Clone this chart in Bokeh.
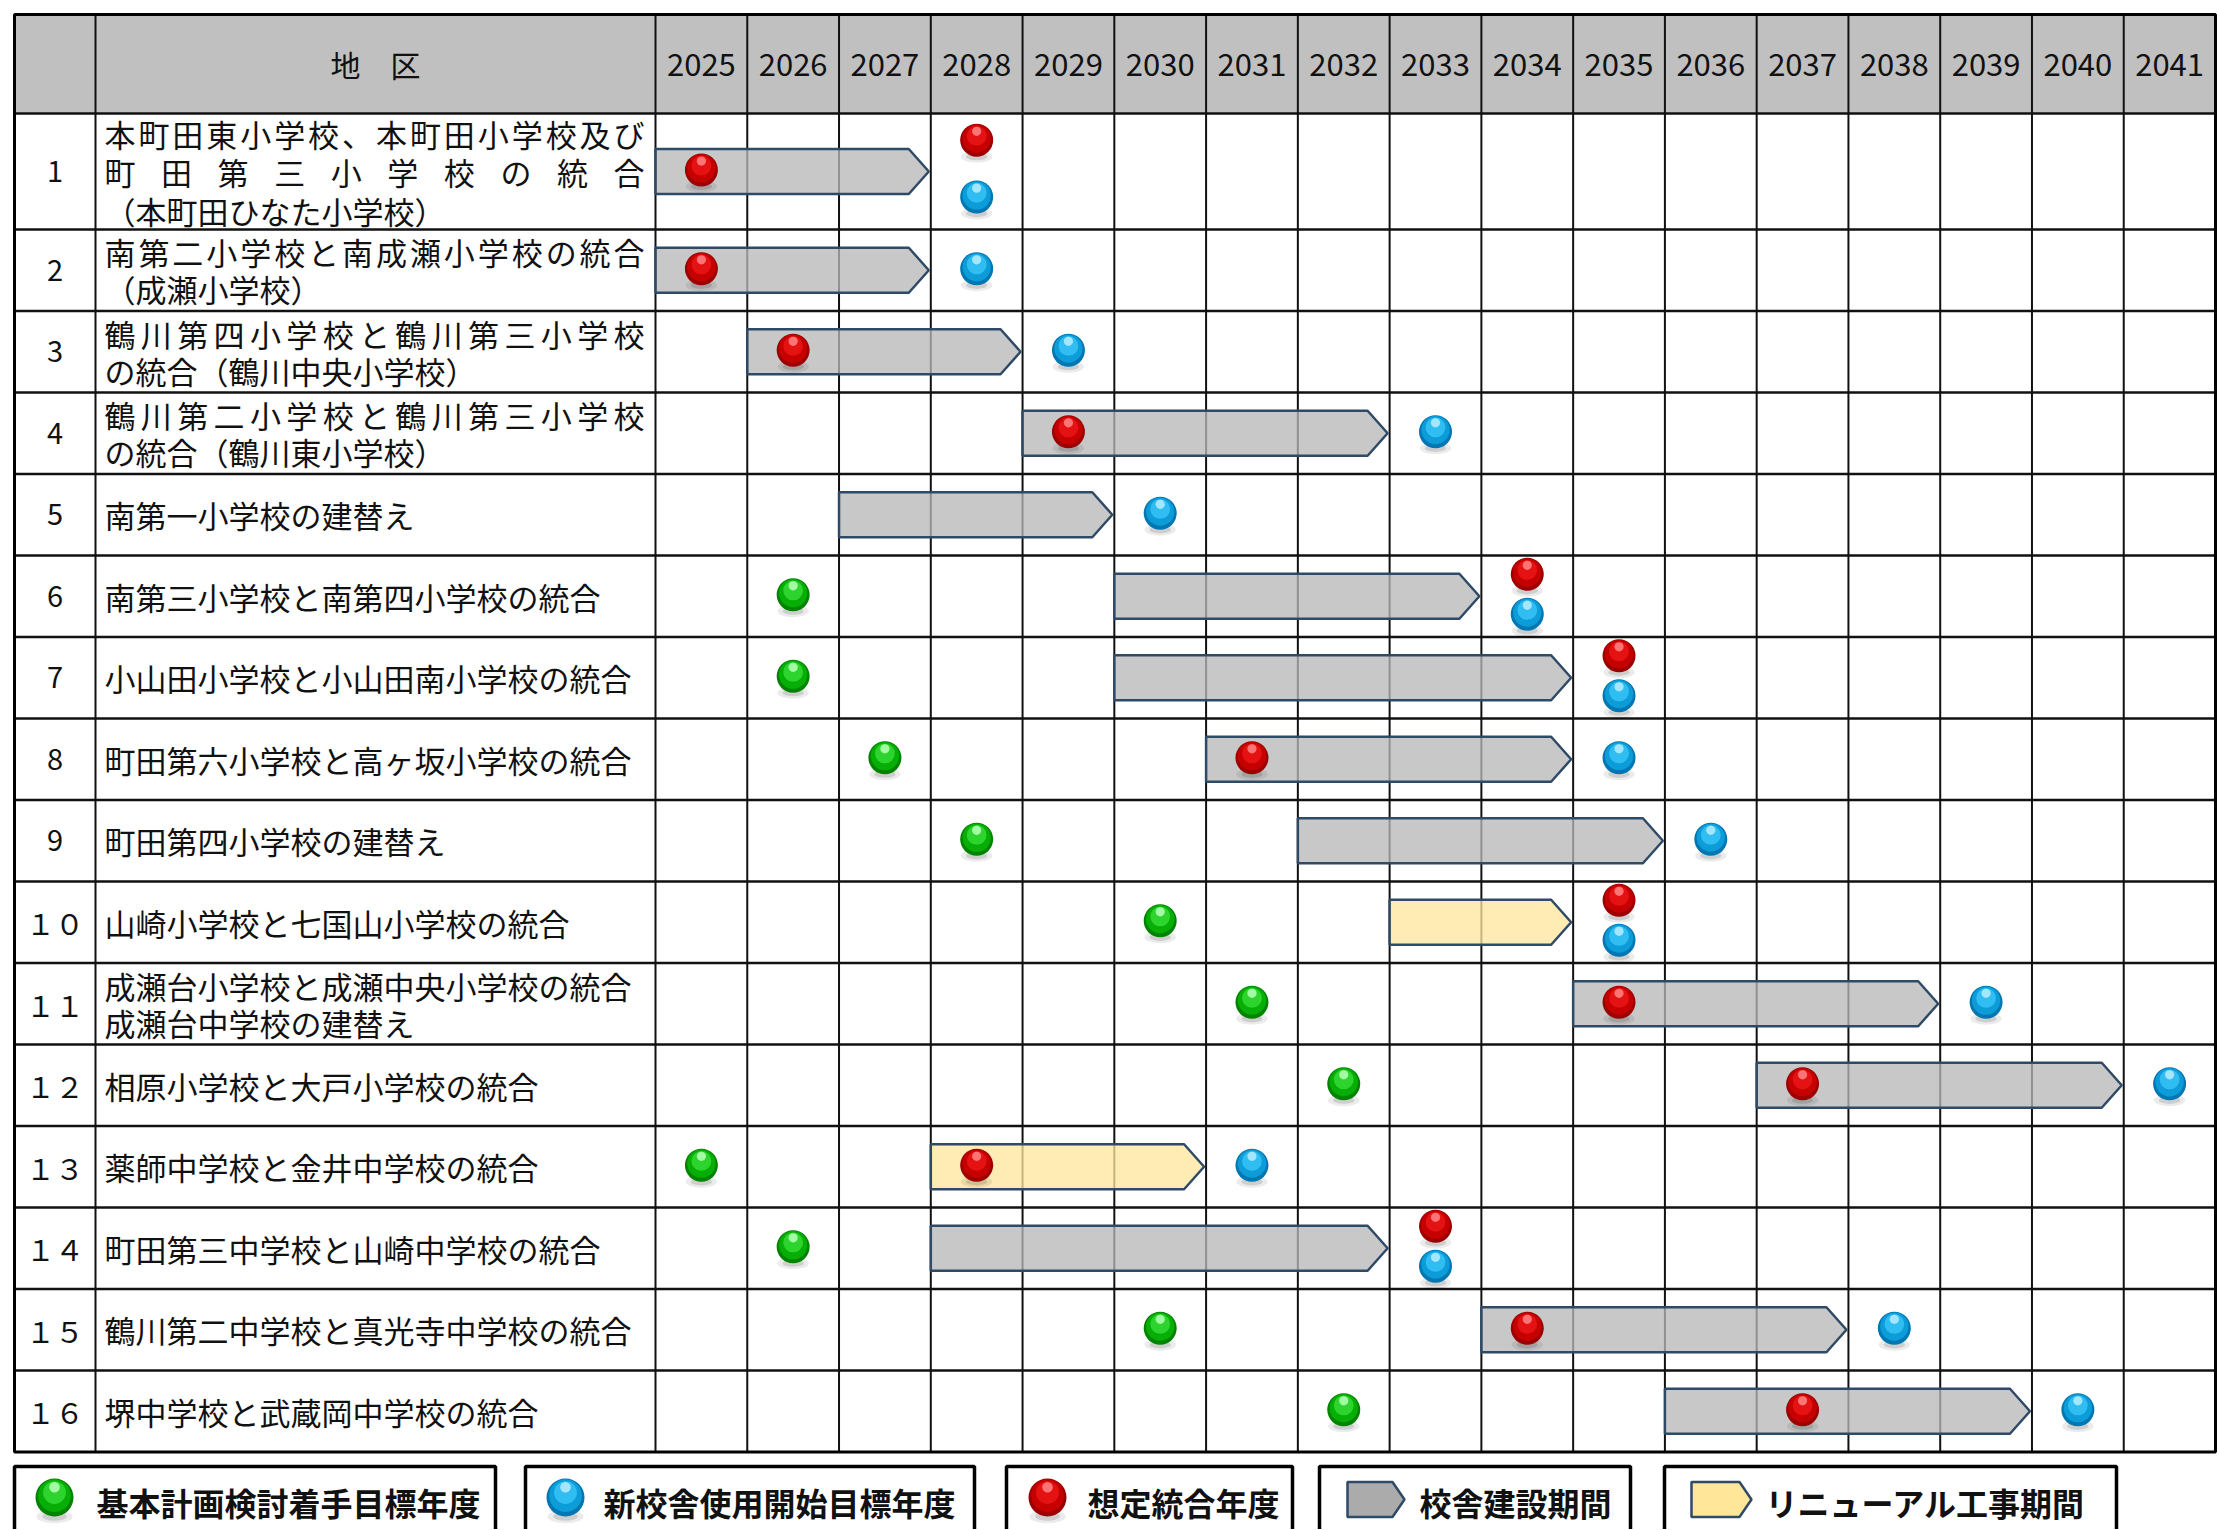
from bokeh.plotting import figure
from bokeh.models import Range1d
from bokeh.core.properties import value
from bokeh.embed import file_html
from bokeh.resources import INLINE

# ======================= DATA =======================
years = [2025, 2026, 2027, 2028, 2029, 2030, 2031, 2032, 2033,
         2034, 2035, 2036, 2037, 2038, 2039, 2040, 2041]
year_labels = ["2025", "2026", "2027", "2028", "2029", "2030", "2031", "2032", "2033",
               "2034", "2035", "2036", "2037", "2038", "2039", "2040", "2041"]
header_label = "地　区"
row_numbers = ["1", "2", "3", "4", "5", "6", "7", "8", "9",
               "１０", "１１", "１２", "１３", "１４", "１５", "１６"]
district_lines = [
    ["本町田東小学校、本町田小学校及び", "町田第三小学校の統合", "（本町田ひなた小学校）"],
    ["南第二小学校と南成瀬小学校の統合", "（成瀬小学校）"],
    ["鶴川第四小学校と鶴川第三小学校", "の統合（鶴川中央小学校）"],
    ["鶴川第二小学校と鶴川第三小学校", "の統合（鶴川東小学校）"],
    ["南第一小学校の建替え"],
    ["南第三小学校と南第四小学校の統合"],
    ["小山田小学校と小山田南小学校の統合"],
    ["町田第六小学校と高ヶ坂小学校の統合"],
    ["町田第四小学校の建替え"],
    ["山崎小学校と七国山小学校の統合"],
    ["成瀬台小学校と成瀬中央小学校の統合", "成瀬台中学校の建替え"],
    ["相原小学校と大戸小学校の統合"],
    ["薬師中学校と金井中学校の統合"],
    ["町田第三中学校と山崎中学校の統合"],
    ["鶴川第二中学校と真光寺中学校の統合"],
    ["堺中学校と武蔵岡中学校の統合"],
]
# construction / renewal periods (first year, last year)
period_start = [2025, 2025, 2026, 2029, 2027, 2030, 2030, 2031, 2032, 2033, 2035, 2037, 2028, 2028, 2034, 2036]
period_end = [2027, 2027, 2028, 2032, 2029, 2033, 2034, 2034, 2035, 2034, 2038, 2040, 2030, 2032, 2037, 2039]
period_kind = ["build", "build", "build", "build", "build", "build", "build", "build",
               "build", "renew", "build", "build", "renew", "build", "build", "build"]
# 基本計画検討着手目標年度 (green)
plan_rows = [6, 7, 8, 9, 10, 11, 12, 13, 14, 15, 16]
plan_years = [2026, 2026, 2027, 2028, 2030, 2031, 2032, 2025, 2026, 2030, 2032]
# 新校舎使用開始目標年度 (blue)
open_rows = [1, 2, 3, 4, 5, 6, 7, 8, 9, 10, 11, 12, 13, 14, 15, 16]
open_years = [2028, 2028, 2029, 2033, 2030, 2034, 2035, 2035, 2036, 2035, 2039, 2041, 2031, 2033, 2038, 2040]
# 想定統合年度 (red)
merge_rows = [1, 1, 2, 3, 4, 6, 7, 8, 10, 11, 12, 13, 14, 15, 16]
merge_years = [2025, 2028, 2025, 2026, 2029, 2034, 2035, 2031, 2035, 2035, 2037, 2028, 2033, 2034, 2037]
legend_labels = ["基本計画検討着手目標年度", "新校舎使用開始目標年度", "想定統合年度",
                 "校舎建設期間", "リニューアル工事期間"]

# ======================= LAYOUT =======================
FONT = value("Noto Sans CJK JP")
W, H = 2218, 1529
OX, OY = 0, 0
TABLE_L, NUM_R, NAME_R, TABLE_R = 14, 95, 655, 2215
HEAD_T, HEAD_B = 14, 113
ROW1_H, ROW_H = 116, 81.5
n_rows = len(row_numbers)
row_h = [ROW1_H] + [ROW_H] * (n_rows - 1)
row_top = []
t = HEAD_B
for h in row_h:
    row_top.append(t)
    t += h
TABLE_B = t
row_mid = [row_top[i] + row_h[i] / 2 for i in range(n_rows)]

cw = (TABLE_R - NAME_R) / len(years)
first_edge = years[0] - 0.5
last_edge = years[-1] + 0.5
x0 = first_edge - (NAME_R - OX) / cw
x1 = x0 + W / cw


def sx(px):
    return x0 + (px - OX) / cw


p = figure(width=W, height=H, x_range=Range1d(x0, x1), y_range=Range1d(OY + H, OY),
           output_backend="svg", toolbar_location=None, min_border=0,
           x_axis_type=None, y_axis_type=None)
p.grid.visible = False
p.outline_line_color = None
p.background_fill_color = "white"
p.border_fill_color = "white"

# header background
p.quad(left=[sx(TABLE_L)], right=[last_edge], top=[HEAD_T], bottom=[HEAD_B],
       fill_color="#C0C0C0", line_color=None)

# grid lines
vx = [sx(NUM_R), first_edge] + [y + 0.5 for y in years[:-1]]
p.segment(x0=vx, y0=[HEAD_T] * len(vx), x1=vx, y1=[TABLE_B] * len(vx),
          line_color="#111111", line_width=2)
hy = [HEAD_B] + row_top[1:]
p.segment(x0=[sx(TABLE_L)] * len(hy), y0=hy, x1=[last_edge] * len(hy), y1=hy,
          line_color="#111111", line_width=2.5)
p.quad(left=[sx(TABLE_L)], right=[last_edge], top=[HEAD_T], bottom=[TABLE_B],
       fill_color=None, line_color="#000000", line_width=3)

# period arrows
BAR_H = 45
TIP = 20 / cw
bx, by, bfill = [], [], []
for i in range(n_rows):
    xl = period_start[i] - 0.5
    xr = period_end[i] + 0.5 - 2 / cw
    yc = row_mid[i]
    bx.append([xl, xr - TIP, xr, xr - TIP, xl])
    by.append([yc - BAR_H / 2, yc - BAR_H / 2, yc, yc + BAR_H / 2, yc + BAR_H / 2])
    bfill.append("#B7B7B7" if period_kind[i] == "build" else "#FFE69E")
p.patches(xs=bx, ys=by, fill_color=bfill, fill_alpha=0.77,
          line_color="#2F4A66", line_width=2.5)

RED = ["#9C0000", "#C60000", "#E41212", "#FF8080"]
BLUE = ["#0077B2", "#0C9CD8", "#30BEF2", "#B0EAFF"]
GREEN = ["#008400", "#06AE06", "#2ED42E", "#B0FFB0"]


def draw_spheres(xs, ys, pal, d):
    sh_y = [y + d * 0.5 for y in ys]
    p.ellipse(x=xs, y=sh_y, width=[d * 0.95 / cw] * len(xs), height=[d * 0.36] * len(xs),
              fill_color="black", fill_alpha=0.08, line_color=None)
    p.ellipse(x=xs, y=sh_y, width=[d * 0.65 / cw] * len(xs), height=[d * 0.22] * len(xs),
              fill_color="black", fill_alpha=0.12, line_color=None)
    p.scatter(x=xs, y=ys, size=d, fill_color=pal[0], line_color=None)
    p.scatter(x=xs, y=[y - d * 0.05 for y in ys], size=d * 0.86, fill_color=pal[1], line_color=None)
    p.scatter(x=xs, y=[y - d * 0.13 for y in ys], size=d * 0.6, fill_color=pal[2], line_color=None)
    p.scatter(x=xs, y=[y - d * 0.27 for y in ys], size=d * 0.28, fill_color=pal[3],
              fill_alpha=0.9, line_color=None)


both = set(zip(merge_rows, merge_years)) & set(zip(open_rows, open_years))


def sphere_pos(rows, yrs, kind):
    xs, ys = [], []
    for r, yr in zip(rows, yrs):
        i = r - 1
        off = -1.5
        if (r, yr) in both:
            off = -0.27 * row_h[i] if kind == "merge" else 0.22 * row_h[i]
        xs.append(yr)
        ys.append(row_mid[i] + off)
    return xs, ys


D = 33
gx, gy = sphere_pos(plan_rows, plan_years, "plan")
draw_spheres(gx, gy, GREEN, D)
ox_, oy_ = sphere_pos(open_rows, open_years, "open")
draw_spheres(ox_, oy_, BLUE, D)
mx, my = sphere_pos(merge_rows, merge_years, "merge")
draw_spheres(mx, my, RED, D)

# header texts
HEAD_Y = (HEAD_T + HEAD_B) / 2
p.text(x=[(sx(NUM_R) + first_edge) / 2], y=[HEAD_Y], text=[header_label],
       text_font=FONT, text_font_size="30px", text_align="center", text_baseline="middle",
       text_color="#111111")
p.text(x=years, y=[HEAD_Y] * len(years), text=year_labels,
       text_font=FONT, text_font_size="31px", text_align="center", text_baseline="middle",
       text_color="#111111")

# row numbers
p.text(x=[(sx(TABLE_L) + sx(NUM_R)) / 2] * n_rows, y=row_mid, text=row_numbers,
       text_font=FONT, text_font_size="29px", text_align="center", text_baseline="middle",
       text_color="#111111")

# district names
FS = 31
NAME_L, NAME_RT = 104, 644
justified = {(0, 0), (0, 1), (1, 0), (2, 0), (3, 0)}
tx, ty, tt = [], [], []
cx, cy, ct = [], [], []
for i, lines in enumerate(district_lines):
    n = len(lines)
    gap = 38.5 if row_h[i] > 100 else 37
    for j, line in enumerate(lines):
        yl = row_mid[i] + (j - (n - 1) / 2) * gap
        if (i, j) in justified:
            k = len(line)
            step = (NAME_RT - NAME_L - FS) / (k - 1)
            for c, ch in enumerate(line):
                cx.append(sx(NAME_L + FS / 2 + c * step))
                cy.append(yl)
                ct.append(ch)
        else:
            tx.append(sx(NAME_L))
            ty.append(yl)
            tt.append(line)
p.text(x=tx, y=ty, text=tt, text_font=FONT, text_font_size=f"{FS}px",
       text_align="left", text_baseline="middle", text_color="#111111")
p.text(x=cx, y=cy, text=ct, text_font=FONT, text_font_size=f"{FS}px",
       text_align="center", text_baseline="middle", text_color="#111111")

# legend
LEG_T = 1466
boxes = [(14, 495), (525, 974), (1006, 1292), (1319, 1630), (1664, 2116)]
p.quad(left=[sx(a) for a, b in boxes], right=[sx(b) for a, b in boxes],
       top=[LEG_T] * 5, bottom=[1580] * 5, fill_color="white",
       line_color="#000000", line_width=3.5)
LEG_Y = 1499
draw_spheres([sx(54)], [LEG_Y - 2], GREEN, 38)
draw_spheres([sx(565)], [LEG_Y - 2], BLUE, 38)
draw_spheres([sx(1047)], [LEG_Y - 2], RED, 38)
lx, ly = [], []
for (a, b) in [(1347, 1404), (1691, 1751)]:
    tip = 12
    lx.append([sx(a), sx(b - tip), sx(b), sx(b - tip), sx(a)])
    ly.append([LEG_Y - 17.5, LEG_Y - 17.5, LEG_Y, LEG_Y + 17.5, LEG_Y + 17.5])
p.patches(xs=lx, ys=ly, fill_color=["#ABABAB", "#FFE699"], line_color="#2F4A66", line_width=2.5)
p.text(x=[sx(96), sx(603), sx(1087), sx(1419), sx(1765)], y=[LEG_Y + 2] * 5, text=legend_labels,
       text_font=FONT, text_font_size="32px", text_font_style="bold",
       text_align="left", text_baseline="middle", text_color="#111111")

open("out.html", "w").write(file_html(p, INLINE))
